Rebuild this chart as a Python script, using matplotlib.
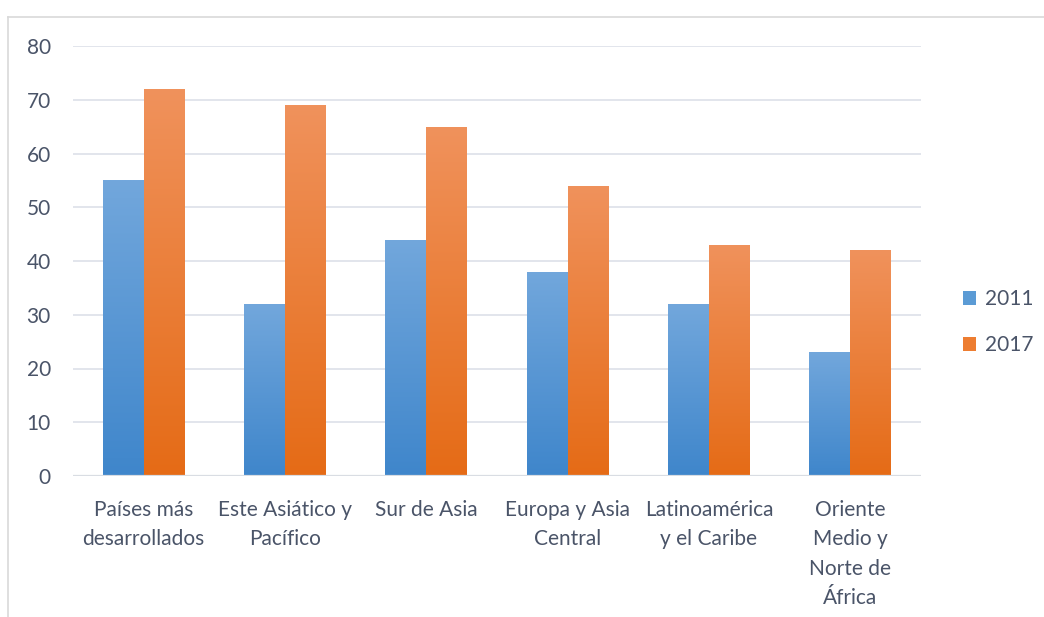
import numpy as np
import matplotlib
matplotlib.use("Agg")
import matplotlib.pyplot as plt
from matplotlib.colors import LinearSegmentedColormap
from matplotlib.patches import Patch
from matplotlib.lines import Line2D

categories = [
    "Países más\ndesarrollados",
    "Este Asiático y\nPacífico",
    "Sur de Asia",
    "Europa y Asia\nCentral",
    "Latinoamérica\ny el Caribe",
    "Oriente\nMedio y\nNorte de\nÁfrica",
]
values_2011 = [55, 32, 44, 38, 32, 23]
values_2017 = [72, 69, 65, 54, 43, 42]
series_names = ["2011", "2017"]
yticks = [0, 10, 20, 30, 40, 50, 60, 70, 80]

text_color = "#4a5468"
grid_color = "#dfe3ea"
blue_top, blue_bottom = "#72a7dc", "#3f86cb"
orange_top, orange_bottom = "#f0925c", "#e56b16"

plt.rcParams["font.family"] = ["Lato", "DejaVu Sans"]

W, H = 1044, 617
fig = plt.figure(figsize=(W / 100, H / 100), dpi=100)

# chart-area border (top and left edges visible)
fig.add_artist(Line2D([8 / W, 8 / W], [0, 1 - 17 / H], transform=fig.transFigure,
                      color="#d9d9d9", lw=1.2))
fig.add_artist(Line2D([8 / W, 1], [1 - 17 / H, 1 - 17 / H], transform=fig.transFigure,
                      color="#d9d9d9", lw=1.2))

left, right = 73 / W, 921 / W
bottom, top = 1 - 476 / H, 1 - 46 / H
ax = fig.add_axes([left, bottom, right - left, top - bottom])

n = len(categories)
x = np.arange(n)
width = 0.29

def gradient_bars(xpos, vals, c_top, c_bottom):
    cmap = LinearSegmentedColormap.from_list("g", [c_bottom, c_top])
    bars = ax.bar(xpos, vals, width, color="none", edgecolor="none", zorder=3)
    grad = np.linspace(0, 1, 256).reshape(-1, 1)
    for b in bars:
        bx = b.get_x()
        bw, bh = b.get_width(), b.get_height()
        im = ax.imshow(grad, cmap=cmap, aspect="auto", origin="lower",
                       extent=[bx, bx + bw, 0, bh], zorder=3, interpolation="bilinear",
                       vmin=0, vmax=1)
        im.set_clip_path(b)
    return bars

gradient_bars(x - width / 2, values_2011, blue_top, blue_bottom)
gradient_bars(x + width / 2, values_2017, orange_top, orange_bottom)

ax.set_xlim(-0.5, n - 0.5)
ax.set_ylim(0, 80)
ax.set_yticks(yticks)
ax.set_yticklabels([str(t) for t in yticks])
ax.set_xticks(x)
ax.set_xticklabels(categories, linespacing=1.6, va="top")
for s in ax.spines.values():
    s.set_visible(False)
ax.tick_params(axis="both", length=0, colors=text_color, labelsize=15)
ax.tick_params(axis="y", pad=16)
ax.tick_params(axis="x", pad=17)
ax.grid(axis="y", color=grid_color, lw=1.3, zorder=0)
ax.axhline(0, color="#d9dde3", lw=1.6, zorder=4)
ax.set_axisbelow(True)

handles = [Patch(facecolor="#5b9bd5", edgecolor="none"),
           Patch(facecolor="#ed7d31", edgecolor="none")]
fig.legend(handles, series_names, loc="center left", bbox_to_anchor=(944 / W, 1 - 322 / H),
           frameon=False, fontsize=15, labelcolor=text_color, handlelength=0.65,
           handleheight=0.65, handletextpad=0.4, labelspacing=1.25)

fig.savefig("out.png", dpi=100, facecolor="white")
